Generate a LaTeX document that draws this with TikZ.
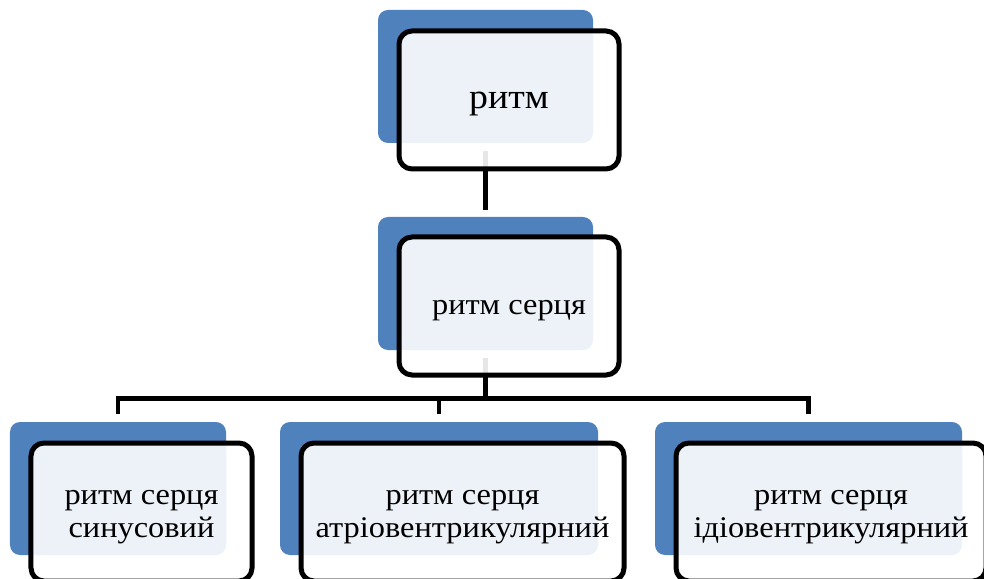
\documentclass[tikz,border=0pt]{standalone}
\usepackage{fontspec}
\setmainfont[FakeStretch=1.08]{Liberation Serif}
\usetikzlibrary{backgrounds}
\definecolor{smartblue}{RGB}{79,129,189}
\begin{document}
\begin{tikzpicture}[x=1bp,y=-1bp,
  backbox/.style={fill=smartblue, draw=none, rounded corners=10bp, inner sep=0pt,
    minimum height=133bp},
  frontbox/.style={draw=black, line width=5bp, fill=white, fill opacity=0.9,
    rounded corners=13bp, inner sep=0pt, minimum height=138bp},
  labeltext/.style={align=center, inner sep=0pt, font=\fontsize{30bp}{33bp}\selectfont},
  link/.style={draw=black, line width=4.5bp}]
\useasboundingbox (0,0) rectangle (984,579);
% blue back shapes
\node[backbox, minimum width=215bp] (tb) at (485.5,76.5) {};
\node[backbox, minimum width=215bp] (mb) at (485.5,283.5) {};
\node[backbox, minimum width=216bp] (lb) at (118,488.5) {};
\node[backbox, minimum width=318bp] (cb) at (439,488.5) {};
\node[backbox, minimum width=307bp] (rb) at (808.5,488.5) {};
% framed boxes
\node[frontbox, minimum width=220bp] (tf) at (509,100) {};
\node[frontbox, minimum width=220bp] (mf) at (509,306) {};
\node[frontbox, minimum width=221bp] (lf) at (141.5,512) {};
\node[frontbox, minimum width=323bp] (cf) at (462.5,512) {};
\node[frontbox, minimum width=310bp] (rf) at (831,512) {};
% texts
\node[labeltext, font=\fontsize{35bp}{38bp}\selectfont] (tt) at ([yshift=-4bp]tf.center) {ритм};
\node[labeltext] (mt) at ([yshift=-5bp]mf.center) {ритм серця};
\node[labeltext] (lt) at ([yshift=-5bp]lf.center) {ритм серця\\синусовий};
\node[labeltext] (ct) at ([yshift=-5bp]cf.center) {ритм серця\\атріовентрикулярний};
\node[labeltext] (rt) at ([yshift=-5bp]rf.center) {ритм серця\\ідіовентрикулярний};
% connectors
\coordinate (bus) at (0,398.5);
\begin{scope}[on background layer]
\draw[link] ([yshift=-8bp]tb.south) -- ([yshift=7bp]mb.north);
\draw[link] ([yshift=-8bp]mb.south) -- (mb.south |- bus);
\draw[link] ([yshift=8bp]lb.north) -- (lb.north |- bus) -- (rb.north |- bus) -- ([yshift=8bp]rb.north);
\draw[link] (cb.north |- bus) -- ([yshift=8bp]cb.north);
\end{scope}
\end{tikzpicture}
\end{document}
